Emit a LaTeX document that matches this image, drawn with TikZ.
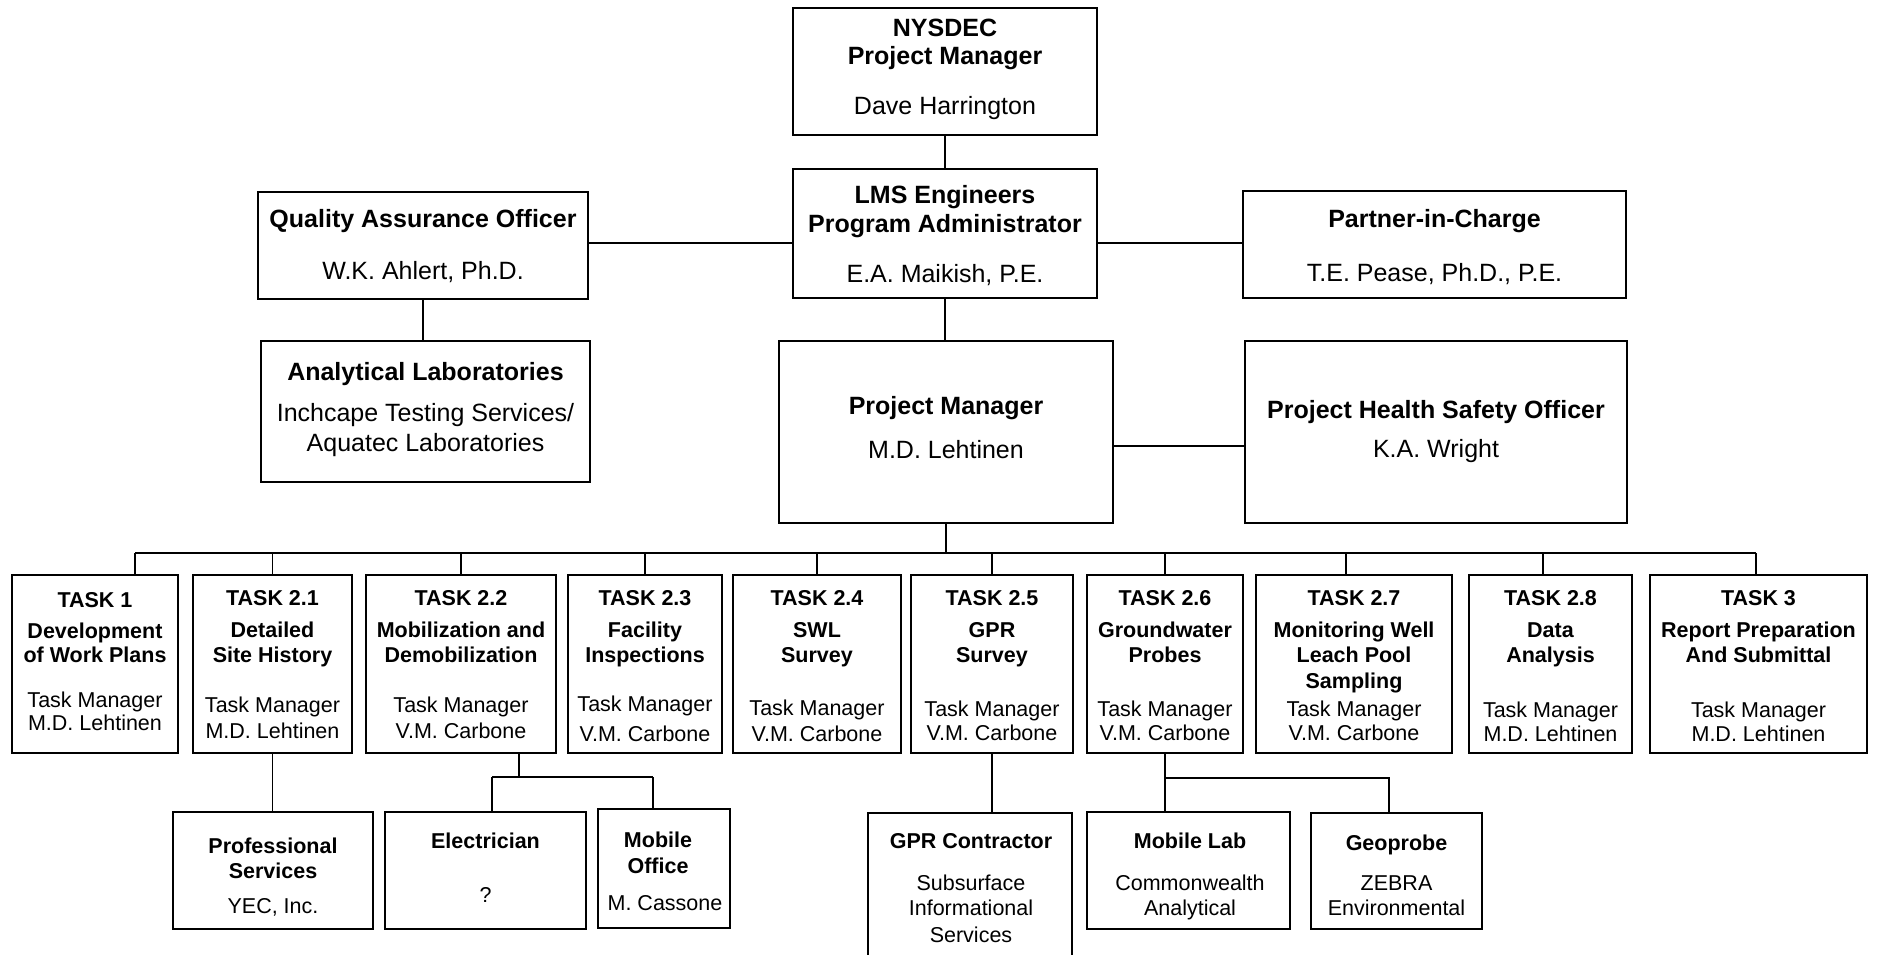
\documentclass[tikz,border=0pt]{standalone}
\usepackage{fontspec}
\setmainfont{Liberation Sans}
\newcommand\obox[5]{\node[obx, minimum width={(#4-#2)*1pt}, minimum height={(#5-#3)*1pt}] (#1) at ({(#2+#4)/2},{(#3+#5)/2}) {};}
\newcommand\tx[5]{\node[#1] (#2) at (#3,#4) {#5};}
\tikzset{
  obx/.style={draw, line width=2.6pt, rectangle, inner sep=0pt, outer sep=0pt},
  con/.style={line width=1.4pt},
  bg/.style={font=\fontsize{25}{30}\selectfont, inner sep=0pt, anchor=base},
  bgb/.style={font=\fontsize{25}{30}\selectfont\bfseries, inner sep=0pt, anchor=base},
  sm/.style={font=\fontsize{21.5}{26}\selectfont, inner sep=0pt, anchor=base},
  smb/.style={font=\fontsize{21.5}{26}\selectfont\bfseries, inner sep=0pt, anchor=base},
}
\begin{document}
\begin{tikzpicture}[x=1pt,y=-1pt]
\useasboundingbox[fill=white] (0,0) rectangle (1878,955);
\clip (0,0) rectangle (1878,955);
% top level boxes
\obox{nys}{793}{8}{1097}{135}
\obox{lms}{793}{169}{1097}{298}
\obox{qao}{258}{192}{588}{299}
\obox{alab}{261}{341}{590}{482}
\obox{pic}{1243}{191}{1626}{298}
\obox{pm}{779}{341}{1113}{523}
\obox{phso}{1245}{341}{1627}{523}
% tasks
\obox{t1}{12}{575}{178}{753}
\obox{t21}{193}{575}{352}{753}
\obox{t22}{366}{575}{556}{753}
\obox{t23}{568}{575}{722}{753}
\obox{t24}{733}{575}{901}{753}
\obox{t25}{911}{575}{1073}{753}
\obox{t26}{1087}{575}{1243}{753}
\obox{t27}{1256}{575}{1452}{753}
\obox{t28}{1469}{575}{1632}{753}
\obox{t3}{1650}{575}{1867}{753}
% bottom
\obox{ps}{173}{812}{373}{929}
\obox{el}{385}{812}{586}{929}
\obox{mo}{598}{809}{730}{928}
\obox{gpr}{868}{813}{1072}{985}
\obox{ml}{1087}{812}{1290}{929}
\obox{geo}{1311}{813}{1482}{929}
% texts top
\tx{bgb}{nys1}{945}{37}{NYSDEC}
\tx{bgb}{nys2}{945}{65}{Project Manager}
\tx{bg}{nys3}{945}{115}{Dave Harrington}
\tx{bgb}{lms1}{945}{203}{LMS Engineers}
\tx{bgb}{lms2}{945}{232}{Program Administrator}
\tx{bg}{lms3}{945}{282}{E.A. Maikish, P.E.}
\tx{bgb}{qao1}{423}{227}{Quality Assurance Officer}
\tx{bg}{qao2}{423}{279}{W.K. Ahlert, Ph.D.}
\tx{bgb}{alab1}{425.5}{380}{Analytical Laboratories}
\tx{bg}{alab2}{425.5}{421}{Inchcape Testing Services/}
\tx{bg}{alab3}{425.5}{451}{Aquatec Laboratories}
\tx{bgb}{pic1}{1434.5}{227}{Partner-in-Charge}
\tx{bg}{pic2}{1434.5}{281}{T.E. Pease, Ph.D., P.E.}
\tx{bgb}{pm1}{946}{414}{Project Manager}
\tx{bg}{pm2}{946}{458}{M.D. Lehtinen}
\tx{bgb}{phso1}{1436}{418}{Project Health Safety Officer}
\tx{bg}{phso2}{1436}{457}{K.A. Wright}
% task texts
\tx{smb}{t1a}{95}{607}{TASK 1}
\tx{smb}{t1b}{95}{638}{Development}
\tx{smb}{t1c}{95}{662}{of Work Plans}
\tx{sm}{t1d}{95}{707}{Task Manager}
\tx{sm}{t1e}{95}{730}{M.D. Lehtinen}
\tx{smb}{t21a}{272.5}{605}{TASK 2.1}
\tx{smb}{t21b}{272.5}{637}{Detailed}
\tx{smb}{t21c}{272.5}{662}{Site History}
\tx{sm}{t21d}{272.5}{712}{Task Manager}
\tx{sm}{t21e}{272.5}{738}{M.D. Lehtinen}
\tx{smb}{t22a}{461}{605}{TASK 2.2}
\tx{smb}{t22b}{461}{637}{Mobilization and}
\tx{smb}{t22c}{461}{662}{Demobilization}
\tx{sm}{t22d}{461}{712}{Task Manager}
\tx{sm}{t22e}{461}{738}{V.M. Carbone}
\tx{smb}{t23a}{645}{605}{TASK 2.3}
\tx{smb}{t23b}{645}{637}{Facility}
\tx{smb}{t23c}{645}{662}{Inspections}
\tx{sm}{t23d}{645}{711}{Task Manager}
\tx{sm}{t23e}{645}{741}{V.M. Carbone}
\tx{smb}{t24a}{817}{605}{TASK 2.4}
\tx{smb}{t24b}{817}{637}{SWL}
\tx{smb}{t24c}{817}{662}{Survey}
\tx{sm}{t24d}{817}{715}{Task Manager}
\tx{sm}{t24e}{817}{741}{V.M. Carbone}
\tx{smb}{t25a}{992}{605}{TASK 2.5}
\tx{smb}{t25b}{992}{637}{GPR}
\tx{smb}{t25c}{992}{662}{Survey}
\tx{sm}{t25d}{992}{716}{Task Manager}
\tx{sm}{t25e}{992}{740}{V.M. Carbone}
\tx{smb}{t26a}{1165}{605}{TASK 2.6}
\tx{smb}{t26b}{1165}{637}{Groundwater}
\tx{smb}{t26c}{1165}{662}{Probes}
\tx{sm}{t26d}{1165}{716}{Task Manager}
\tx{sm}{t26e}{1165}{740}{V.M. Carbone}
\tx{smb}{t27a}{1354}{605}{TASK 2.7}
\tx{smb}{t27b}{1354}{637}{Monitoring Well}
\tx{smb}{t27c}{1354}{662}{Leach Pool}
\tx{smb}{t27f}{1354}{688}{Sampling}
\tx{sm}{t27d}{1354}{716}{Task Manager}
\tx{sm}{t27e}{1354}{740}{V.M. Carbone}
\tx{smb}{t28a}{1550.5}{605}{TASK 2.8}
\tx{smb}{t28b}{1550.5}{637}{Data}
\tx{smb}{t28c}{1550.5}{662}{Analysis}
\tx{sm}{t28d}{1550.5}{717}{Task Manager}
\tx{sm}{t28e}{1550.5}{741}{M.D. Lehtinen}
\tx{smb}{t3a}{1758.5}{605}{TASK 3}
\tx{smb}{t3b}{1758.5}{637}{Report Preparation}
\tx{smb}{t3c}{1758.5}{662}{And Submittal}
\tx{sm}{t3d}{1758.5}{717}{Task Manager}
\tx{sm}{t3e}{1758.5}{741}{M.D. Lehtinen}
% bottom texts
\tx{smb}{ps1}{273}{853}{Professional}
\tx{smb}{ps2}{273}{878}{Services}
\tx{sm}{ps3}{273}{913}{YEC, Inc.}
\tx{smb}{el1}{485.5}{848}{Electrician}
\tx{sm}{el2}{485.5}{902}{?}
\tx{smb}{mo1}{658}{847}{Mobile}
\tx{smb}{mo2}{658}{873}{Office}
\tx{sm}{mo3}{665}{910}{M. Cassone}
\tx{smb}{gpr1}{971}{848}{GPR Contractor}
\tx{sm}{gpr2}{971}{890}{Subsurface}
\tx{sm}{gpr3}{971}{915}{Informational}
\tx{sm}{gpr4}{971}{942}{Services}
\tx{smb}{ml1}{1190}{848}{Mobile Lab}
\tx{sm}{ml2}{1190}{890}{Commonwealth}
\tx{sm}{ml3}{1190}{915}{Analytical}
\tx{smb}{geo1}{1396.5}{850}{Geoprobe}
\tx{sm}{geo2}{1396.5}{890}{ZEBRA}
\tx{sm}{geo3}{1396.5}{915}{Environmental}
% helper coordinates
\coordinate (h1) at (0,243);
\coordinate (h2) at (0,446);
\coordinate (bus) at (0,553);
\coordinate (b22) at (0,777);
\coordinate (b26) at (0,778);
% connectors
\draw[con] (nys.south) -- (lms.north);
\draw[con] (qao.east |- h1) -- (lms.west |- h1);
\draw[con] (lms.east |- h1) -- (pic.west |- h1);
\draw[con] (qao.south) -- (qao.south |- alab.north);
\draw[con] (lms.south) -- (lms.south |- pm.north);
\draw[con] (pm.east |- h2) -- (phso.west |- h2);
\draw[con] (pm.south) -- (pm.south |- bus);
\draw[con] ([xshift=40pt]t1.north |- bus) -- ([xshift=-2.5pt]t3.north |- bus);
\draw[con] ([xshift=40pt]t1.north |- bus) -- ([xshift=40pt]t1.north);
\foreach \t in {t21,t22,t23,t24,t25,t26}{
  \draw[con] (\t.north |- bus) -- (\t.north);
}
\draw[con] ([xshift=-8pt]t27.north |- bus) -- ([xshift=-8pt]t27.north);
\draw[con] ([xshift=-7.5pt]t28.north |- bus) -- ([xshift=-7.5pt]t28.north);
\draw[con] ([xshift=-2.5pt]t3.north |- bus) -- ([xshift=-2.5pt]t3.north);
\draw[con] (t21.south) -- (t21.south |- ps.north);
\draw[con] ([xshift=58pt]t22.south) -- ([xshift=58pt]t22.south |- b22);
\draw[con] ([xshift=6.5pt]el.north |- b22) -- ([xshift=-11pt]mo.north |- b22);
\draw[con] ([xshift=6.5pt]el.north |- b22) -- ([xshift=6.5pt]el.north);
\draw[con] ([xshift=-11pt]mo.north |- b22) -- ([xshift=-11pt]mo.north);
\draw[con] (t25.south) -- (t25.south |- gpr.north);
\draw[con] (t26.south) -- (t26.south |- ml.north);
\draw[con] (t26.south |- b26) -- ([xshift=-7.5pt]geo.north |- b26) -- ([xshift=-7.5pt]geo.north);
\end{tikzpicture}
\end{document}
